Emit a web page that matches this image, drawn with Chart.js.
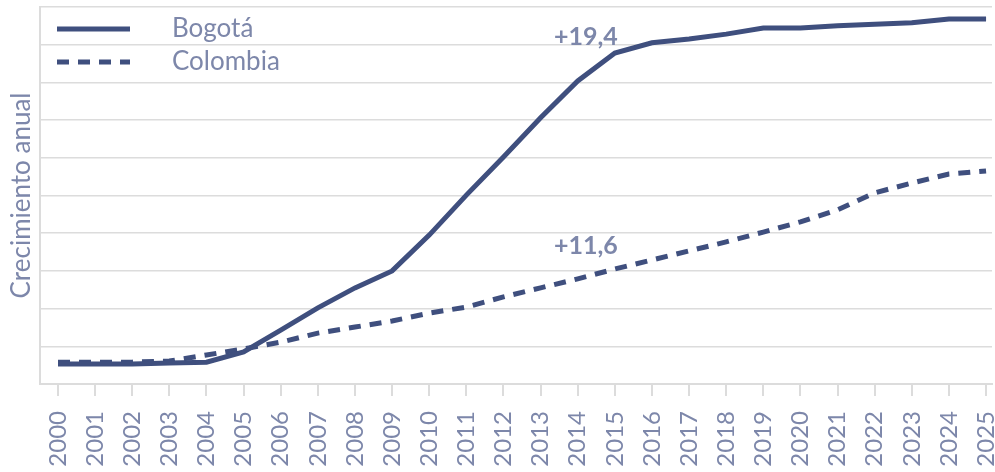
<!DOCTYPE html>
<html>
<head>
<meta charset="utf-8">
<script src="https://cdn.jsdelivr.net/npm/chart.js@4.4.1/dist/chart.umd.min.js"></script>
<style>
  html, body { margin: 0; padding: 0; background: #fff; }
  #wrap { width: 995px; height: 472px; position: relative; }
</style>
</head>
<body>
<div id="wrap"><canvas id="grafico"></canvas></div>
<script>
// Datos (unidades relativas, eje Y sin etiquetas)
const anios = [2000, 2001, 2002, 2003, 2004, 2005, 2006, 2007, 2008, 2009, 2010, 2011, 2012,
               2013, 2014, 2015, 2016, 2017, 2018, 2019, 2020, 2021, 2022, 2023, 2024, 2025];
const bogota = [0.53, 0.53, 0.53, 0.56, 0.58, 0.85, 1.43, 2.02, 2.55, 3.00, 3.95, 5.01, 6.02,
                7.06, 8.04, 8.78, 9.05, 9.15, 9.28, 9.44, 9.44, 9.50, 9.54, 9.58, 9.68, 9.68];
const colombia = [0.58, 0.58, 0.58, 0.61, 0.77, 0.93, 1.11, 1.35, 1.51, 1.67, 1.88, 2.04, 2.31,
                  2.55, 2.79, 3.05, 3.29, 3.53, 3.77, 4.03, 4.30, 4.62, 5.07, 5.33, 5.57, 5.65];
const nombres = ['Bogotá', 'Colombia'];
const etiquetas = ['+19,4', '+11,6'];
const tituloY = 'Crecimiento anual';

const azul = '#3f4f7e';
const texto = '#7d87aa';
const gris = '#dcdcdc';

// leyenda dentro del área del gráfico
const leyenda = {
  id: 'leyenda',
  afterDraw(chart) {
    const ctx = chart.ctx;
    const a = chart.chartArea;
    ctx.save();
    chart.data.datasets.forEach((ds, i) => {
      const y = a.top + 22 + i * 33;
      ctx.strokeStyle = ds.borderColor;
      ctx.lineWidth = ds.borderWidth;
      ctx.setLineDash(ds.borderDash || []);
      ctx.beginPath();
      ctx.moveTo(a.left + 17, y);
      ctx.lineTo(a.left + 90, y);
      ctx.stroke();
      ctx.setLineDash([]);
      ctx.fillStyle = texto;
      ctx.font = '26px Lato';
      ctx.textBaseline = 'middle';
      ctx.fillText(ds.label, a.left + 132, y);
    });
    ctx.restore();
  }
};

// textos de variación sobre las líneas
const anotaciones = {
  id: 'anotaciones',
  afterDraw(chart) {
    const ctx = chart.ctx;
    const x = chart.scales.x, y = chart.scales.y;
    const pos = [[2014.22, 9.2], [2014.22, 3.66]];
    ctx.save();
    ctx.fillStyle = texto;
    ctx.font = 'bold 25px Lato';
    ctx.textAlign = 'center';
    ctx.textBaseline = 'middle';
    etiquetas.forEach((t, i) => {
      ctx.fillText(t, x.getPixelForValue(pos[i][0]), y.getPixelForValue(pos[i][1]));
    });
    ctx.restore();
  }
};

new Chart(document.getElementById('grafico'), {
  type: 'line',
  data: {
    datasets: [
      {
        label: nombres[0],
        data: anios.map((a, i) => ({ x: a, y: bogota[i] })),
        borderColor: azul,
        borderWidth: 5,
        pointRadius: 0,
        tension: 0
      },
      {
        label: nombres[1],
        data: anios.map((a, i) => ({ x: a, y: colombia[i] })),
        borderColor: azul,
        borderWidth: 5,
        borderDash: [12, 9],
        borderCapStyle: 'butt',
        pointRadius: 0,
        tension: 0
      }
    ]
  },
  options: {
    responsive: true,
    maintainAspectRatio: false,
    animation: false,
    layout: { padding: { top: 7, right: 3, left: 0, bottom: 0 } },
    plugins: {
      legend: { display: false },
      tooltip: { enabled: false }
    },
    scales: {
      x: {
        type: 'linear',
        min: 1999.515,
        max: 2025.16,
        afterFit: s => { s.height = 88; s.paddingLeft = 0; s.paddingRight = 0; },
        ticks: {
          stepSize: 1,
          includeBounds: false,
          autoSkip: false,
          minRotation: 90,
          maxRotation: 90,
          color: texto,
          font: { family: 'Lato', size: 24 },
          padding: 15,
          callback: v => (anios.includes(v) ? String(v) : '')
        },
        grid: { drawOnChartArea: false, tickLength: 12, color: gris, lineWidth: 2 },
        border: { color: gris, width: 2 }
      },
      y: {
        min: 0,
        max: 10,
        afterFit: s => { s.width = 40; },
        ticks: { display: false, stepSize: 1 },
        grid: { color: gris, lineWidth: 1.5, drawTicks: false },
        border: { color: gris, width: 2 },
        title: {
          display: true,
          text: tituloY,
          color: texto,
          font: { family: 'Lato', size: 26 },
          padding: { top: 6, bottom: 0 }
        }
      }
    }
  },
  plugins: [leyenda, anotaciones]
});
</script>
</body>
</html>
